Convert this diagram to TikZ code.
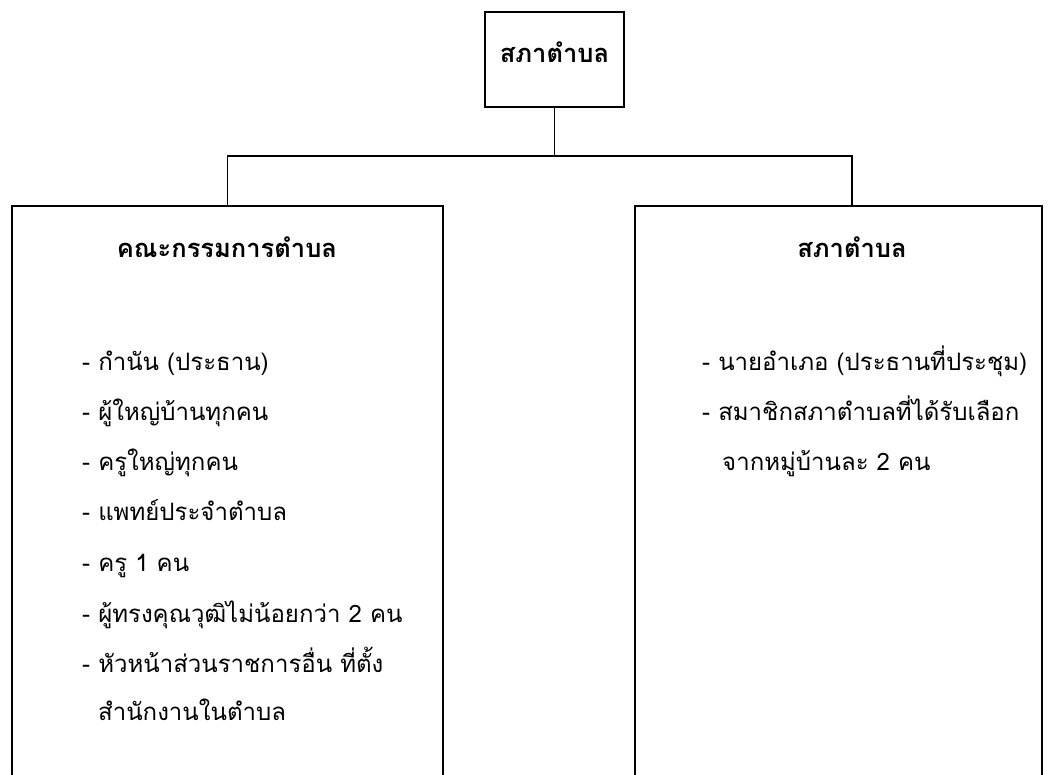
\documentclass[tikz,border=0pt]{standalone}
\usepackage{fontspec}
\newfontfamily\thaifont[Script=Thai]{Loma}
\begin{document}
\begin{tikzpicture}[x=1pt,y=-1pt,
  frame/.style={draw=black, line width=1.8pt, fill=none, inner sep=0pt},
  link/.style={draw=black, line width=1.8pt},
  head/.style={font=\thaifont\fontsize{25.5}{30}\selectfont\bfseries, anchor=base, inner sep=0pt},
  item/.style={font=\thaifont\fontsize{24}{30}\selectfont, anchor=base west, inner sep=0pt}]
\useasboundingbox (0,0) rectangle (1054,775);
\fill[white] (0,0) rectangle (1054,775);
\clip (0,0) rectangle (1054,775);

% boxes (the two lower ones run past the bottom edge)
\node[frame, minimum width=139pt, minimum height=95pt] (top) at (554.5,59.5) {};
\node[frame, minimum width=431pt, minimum height=640pt] (lbox) at (227.5,526) {};
\node[frame, minimum width=407pt, minimum height=640pt] (rbox) at (838.5,526) {};
\coordinate (rdrop) at (852,206);

% connectors
\draw[link] (top.south) -- ++(0,48) coordinate (bus) -| (lbox.north);
\draw[link] (bus) -| (rdrop);

% headings
\node[head] (toptitle) at (554.5,63) {สภาตำบล};
\node[head] (ltitle) at (227,258) {คณะกรรมการตำบล};
\node[head] (rtitle) at (852,258) {สภาตำบล};

% members of the left box
\node[item] (l1) at (82,370) {- กำนัน (ประธาน)};
\node[item] (l2) at (82,420) {- ผู้ใหญ่บ้านทุกคน};
\node[item] (l3) at (82,470) {- ครูใหญ่ทุกคน};
\node[item] (l4) at (82,520) {- แพทย์ประจำตำบล};
\node[item] (l5) at (82,571) {- ครู 1 คน};
\node[item] (l6) at (82,622) {- ผู้ทรงคุณวุฒิไม่น้อยกว่า 2 คน};
\node[item] (l7) at (82,672) {- หัวหน้าส่วนราชการอื่น ที่ตั้ง};
\node[item] (l8) at (98,720) {สำนักงานในตำบล};

% members of the right box
\node[item] (r1) at (702,370) {- นายอำเภอ (ประธานที่ประชุม)};
\node[item] (r2) at (702,420) {- สมาชิกสภาตำบลที่ได้รับเลือก};
\node[item] (r3) at (722,470) {จากหมู่บ้านละ 2 คน};
\end{tikzpicture}
\end{document}
